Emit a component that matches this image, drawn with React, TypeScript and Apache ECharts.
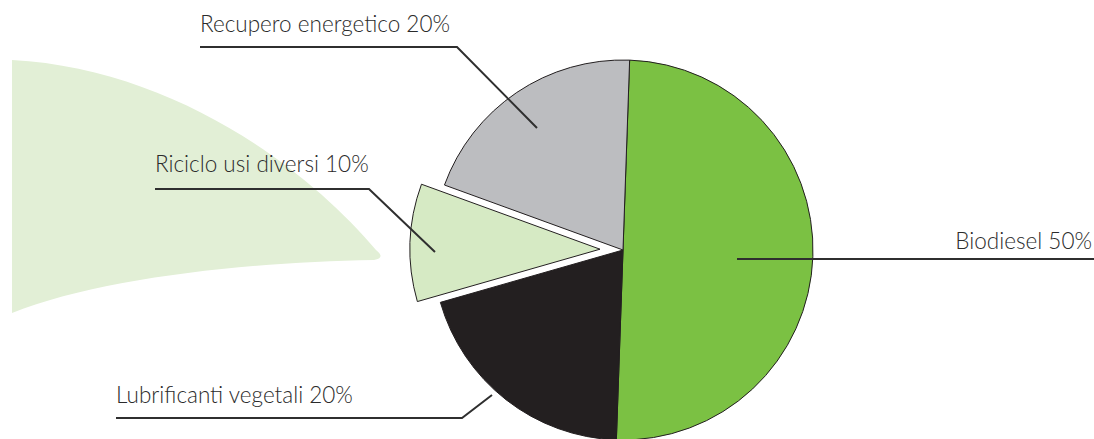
import React, { useEffect, useRef } from "react";
import * as echarts from "echarts";

const categories = ["Biodiesel", "Lubrificanti vegetali", "Riciclo usi diversi", "Recupero energetico"];
const shares = [50, 20, 10, 20];
const sliceColors = ["#7bc143", "#231f20", "#d6eac4", "#bcbdc0"];
const explodedIndex = 2;

// label layout (positions only): text baseline anchor and label-line points
const labelText = [
  { x: 1092, y: 248, align: "right" },
  { x: 116, y: 402, align: "left" },
  { x: 155, y: 171.5, align: "left" },
  { x: 200, y: 31.5, align: "left" },
];
const labelLines = [
  [[737, 259], [900, 259], [1094, 259]],
  [[492, 395], [462, 418], [116, 418]],
  [[435, 252], [369, 189], [155, 189]],
  [[537, 128], [457, 47], [200, 47]],
];

const LEAF_D =
  "M12,60 C165,68 300,160 376,250 Q386,258 374,260 C250,262 100,278 12,313 Z";

const FONT_SIZE = 22.5;
const BASELINE_SHIFT = 19.5;

export default function App() {
  const ref = useRef<HTMLDivElement>(null);
  useEffect(() => {
    if (!ref.current) return;
    try {
      echarts.graphic.registerShape("leaf", echarts.graphic.extendPath(LEAF_D, {}));
    } catch (e) {}
    const chart = echarts.init(ref.current, null, { renderer: "svg" });
    const labelGraphics: any[] = [];
    categories.forEach((name, i) => {
      labelGraphics.push({
        type: "polyline",
        z: 100,
        silent: true,
        shape: { points: labelLines[i] },
        style: { stroke: "#2f2f2f", lineWidth: 2, fill: null },
      });
      labelGraphics.push({
        type: "text",
        z: 100,
        silent: true,
        x: labelText[i].x,
        y: labelText[i].y - BASELINE_SHIFT,
        style: {
          text: `${name} ${shares[i]}%`,
          fontFamily: "Lato",
          fontWeight: 300,
          fontSize: FONT_SIZE,
          fill: "#2b2b2b",
          align: labelText[i].align,
          verticalAlign: "top",
        },
      });
    });
    chart.setOption({
      animation: false,
      backgroundColor: "#ffffff",
      graphic: [
        {
          type: "leaf",
          x: 0,
          y: 0,
          scaleX: 1,
          scaleY: 1,
          z: -10,
          silent: true,
          style: { fill: "#e2efd6" },
        },
        ...labelGraphics,
      ],
      series: [
        {
          type: "pie",
          center: [623, 250],
          radius: [0, 190],
          startAngle: 88,
          clockwise: true,
          selectedMode: "single",
          selectedOffset: 23,
          z: 5,
          itemStyle: { borderColor: "#231f20", borderWidth: 1 },
          emphasis: { disabled: true },
          label: { show: false },
          labelLine: { show: false },
          data: categories.map((name, i) => ({
            name,
            value: shares[i],
            selected: i === explodedIndex,
            itemStyle: { color: sliceColors[i] },
          })),
        },
      ],
    });
    return () => chart.dispose();
  }, []);
  return (
    <div
      ref={ref}
      style={{ position: "fixed", left: 0, top: 0, width: 1094, height: 439 }}
    />
  );
}
